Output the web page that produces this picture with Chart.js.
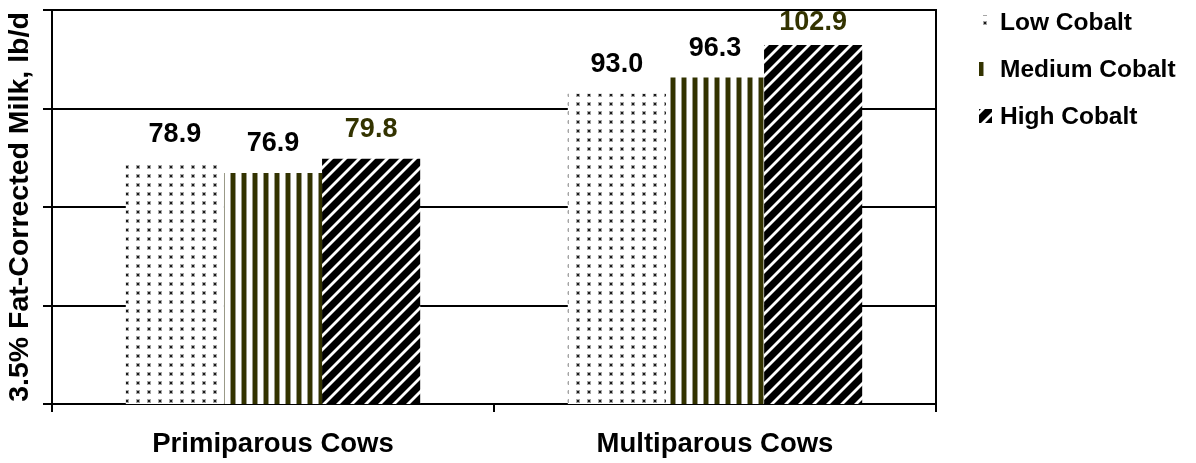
<!DOCTYPE html>
<html>
<head>
<meta charset="utf-8">
<script src="https://cdn.jsdelivr.net/npm/chart.js@4/dist/chart.umd.min.js"></script>
<style>
  html, body { margin: 0; padding: 0; background: #ffffff; }
  #wrap { width: 1196px; height: 463px; position: relative; }
</style>
</head>
<body>
<div id="wrap"><canvas id="chart" width="1196" height="463"></canvas></div>
<script>
// Milk yield by parity group and cobalt supplementation level
const categories = ['Primiparous Cows', 'Multiparous Cows'];
const seriesNames = ['Low Cobalt', 'Medium Cobalt', 'High Cobalt'];
const lowCobalt = [78.9, 93.0];
const mediumCobalt = [76.9, 96.3];
const highCobalt = [79.8, 102.9];
const yTicks = [30, 50, 70, 90, 110];
const axisTitle = '3.5% Fat-Corrected Milk, lb/d';

const FONT = '"Liberation Sans", Arial, Helvetica, sans-serif';
const OLIVE = '#333300';

// ---- fill patterns -------------------------------------------------------
function makeTile(w, h, draw) {
  const c = document.createElement('canvas');
  c.width = w; c.height = h;
  const g = c.getContext('2d');
  draw(g, w, h);
  return c;
}

// sparse dots on white
const dotTile = makeTile(11, 9, (g, w, h) => {
  g.fillStyle = '#ffffff'; g.fillRect(0, 0, w, h);
  g.fillStyle = 'rgba(0,0,0,0.35)'; g.fillRect(4, 3, 4, 4);
  g.fillStyle = '#1a1a1a'; g.fillRect(5, 4, 2, 2);
});

// dark olive vertical stripes on white
const stripeTile = makeTile(11, 4, (g, w, h) => {
  g.fillStyle = '#ffffff'; g.fillRect(0, 0, w, h);
  g.fillStyle = OLIVE; g.fillRect(0, 0, 4, h);
  g.fillStyle = '#9a9a88'; g.fillRect(4, 0, 1, h); g.fillRect(10, 0, 1, h);
});

// black with thin white "/" diagonals
const diagTile = makeTile(14, 14, (g, w, h) => {
  g.fillStyle = '#000000'; g.fillRect(0, 0, w, h);
  g.strokeStyle = '#ffffff'; g.lineWidth = 2.8;
  for (const k of [0, 1, 2]) {
    g.beginPath();
    g.moveTo(-2, k * h + 2);
    g.lineTo(k * w + 2, -2);
    g.stroke();
  }
});

const ctx = document.getElementById('chart').getContext('2d');
const fills = [
  ctx.createPattern(dotTile, 'repeat'),
  ctx.createPattern(stripeTile, 'repeat'),
  ctx.createPattern(diagTile, 'repeat')
];
const labelColors = ['#000000', '#000000', OLIVE];

// ---- value labels above every bar ---------------------------------------
const valueLabels = {
  id: 'valueLabels',
  afterDatasetsDraw(chart) {
    const c = chart.ctx;
    c.save();
    c.font = 'bold 27px ' + FONT;
    c.textAlign = 'center';
    c.textBaseline = 'middle';
    chart.data.datasets.forEach((ds, i) => {
      const meta = chart.getDatasetMeta(i);
      meta.data.forEach((bar, j) => {
        const y = Math.max(bar.y - 29, chart.chartArea.top + 13);
        c.fillStyle = labelColors[i];
        c.fillText(ds.data[j].toFixed(1), bar.x, y);
      });
    });
    c.restore();
  }
};

// ---- legend on the right -------------------------------------------------
const sideLegend = {
  id: 'sideLegend',
  afterDraw(chart) {
    const c = chart.ctx;
    const textX = 1000;
    const rowY = [22, 69, 116];
    const swatchW = [12, 5, 13];
    c.save();
    c.font = 'bold 24.5px ' + FONT;
    c.textBaseline = 'middle';
    c.textAlign = 'left';
    chart.data.datasets.forEach((ds, i) => {
      const y = rowY[i];
      c.fillStyle = ds.backgroundColor;
      c.fillRect(textX - 21, y - 7, swatchW[i], 14);
      c.fillStyle = '#000000';
      c.fillText(ds.label, textX, y + 1);
    });
    c.restore();
  }
};

const seriesValues = [lowCobalt, mediumCobalt, highCobalt];

new Chart(ctx, {
  type: 'bar',
  data: {
    labels: categories,
    datasets: seriesNames.map((name, i) => ({
      label: name,
      data: seriesValues[i],
      backgroundColor: fills[i],
      borderWidth: 0,
      categoryPercentage: 0.666,
      barPercentage: 1.0
    }))
  },
  options: {
    responsive: false,
    animation: false,
    events: [],
    layout: { padding: { left: 0, top: 10, right: 260, bottom: 0 } },
    plugins: {
      legend: { display: false },
      tooltip: { enabled: false }
    },
    scales: {
      x: {
        grid: {
          display: true, drawOnChartArea: false, drawTicks: true,
          tickLength: 8, color: '#000000', lineWidth: 2, offset: true
        },
        border: { display: true, color: '#000000', width: 2 },
        ticks: {
          color: '#000000', padding: 16,
          font: { family: FONT, size: 27.5, weight: 'bold' }
        },
        afterFit(scale) { scale.height = 59; }
      },
      y: {
        min: 30, max: 110,
        afterBuildTicks(scale) { scale.ticks = yTicks.map(v => ({ value: v })); },
        grid: { color: '#000000', lineWidth: 2, tickLength: 9 },
        border: { display: true, color: '#000000', width: 2 },
        ticks: { display: false },
        title: {
          display: true, text: axisTitle, color: '#000000',
          padding: { top: 3, bottom: 0 },
          font: { family: FONT, size: 28.5, weight: 'bold' }
        },
        afterFit(scale) { scale.width = 52; }
      },
      yRight: {
        position: 'right',
        min: 30, max: 110,
        grid: { display: false },
        ticks: { display: false },
        border: { display: true, color: '#000000', width: 2 },
        afterFit(scale) { scale.width = 0; }
      }
    }
  },
  plugins: [valueLabels, sideLegend]
});
</script>
</body>
</html>
